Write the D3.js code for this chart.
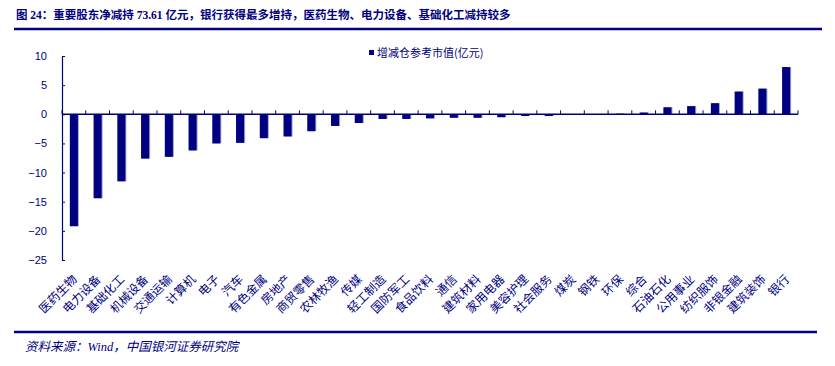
<!DOCTYPE html>
<html>
<head>
<meta charset="utf-8">
<script src="https://cdn.jsdelivr.net/npm/d3@7"></script>
<style>
  body { margin: 0; background: #fff; }
  svg { display: block; }
</style>
</head>
<body>
<div id="chart"></div>
<script>
// Data
const industries = ["医药生物", "电力设备", "基础化工", "机械设备", "交通运输", "计算机", "电子", "汽车",
  "有色金属", "房地产", "商贸零售", "农林牧渔", "传媒", "轻工制造", "国防军工", "食品饮料", "通信",
  "建筑材料", "家用电器", "美容护理", "社会服务", "煤炭", "钢铁", "环保", "综合", "石油石化",
  "公用事业", "纺织服饰", "非银金融", "建筑装饰", "银行"];
const values = [-19.2, -14.4, -11.5, -7.6, -7.3, -6.2, -5.0, -4.9,
  -4.1, -3.8, -2.9, -2.0, -1.5, -0.8, -0.8, -0.7, -0.6,
  -0.6, -0.5, -0.3, -0.3, -0.1, 0.0, 0.1, 0.3, 1.2,
  1.4, 1.9, 3.9, 4.4, 8.1];
const yTicks = [10, 5, 0, -5, -10, -15, -20, -25];

const title = "图 24：重要股东净减持 73.61 亿元，银行获得最多增持，医药生物、电力设备、基础化工减持较多";
const legendLabel = "增减仓参考市值(亿元)";
const source = "资料来源：Wind，中国银河证券研究院";

const W = 835, H = 366;
const margin = {top: 56, right: 37, bottom: 106, left: 62};
const navy = "#000080";

const svg = d3.select("#chart")
  .append("svg")
    .attr("width", W)
    .attr("height", H);

// Title and rules
svg.append("text")
  .attr("x", 16)
  .attr("y", 19)
  .style("font-family", "'Liberation Serif', 'Noto Sans CJK SC'")
  .style("font-size", "11.5px")
  .style("font-weight", "bold")
  .style("fill", navy)
  .text(title);

svg.append("line")
  .attr("x1", 14).attr("x2", 822)
  .attr("y1", 29).attr("y2", 29)
  .attr("stroke", navy)
  .attr("stroke-width", 2.5);

svg.append("line")
  .attr("x1", 14).attr("x2", 817)
  .attr("y1", 332).attr("y2", 332)
  .attr("stroke", navy)
  .attr("stroke-width", 2.5);

svg.append("text")
  .attr("x", 25)
  .attr("y", 351)
  .style("font-family", "'Liberation Serif', 'Noto Sans CJK SC'")
  .style("font-size", "12.5px")
  .style("font-style", "italic")
  .style("fill", navy)
  .text(source);

// Scales
const x = d3.scaleBand()
  .domain(industries)
  .range([margin.left, 798])
  .paddingInner(0.66)
  .paddingOuter(0.33);

const y = d3.scaleLinear()
  .domain([-25, 10])
  .range([260, 56]);

const step = x.step();
const x0 = margin.left;

// Bars (with a light right edge like the original)
const bars = svg.append("g");
bars.selectAll("rect.edge")
  .data(values)
  .enter()
  .append("rect")
    .attr("class", "edge")
    .attr("x", (d, i) => x(industries[i]) + 1)
    .attr("y", d => Math.min(y(d), y(0)))
    .attr("width", x.bandwidth())
    .attr("height", d => Math.abs(y(d) - y(0)))
    .style("fill", "#a0a0d0");
bars.selectAll("rect.bar")
  .data(values)
  .enter()
  .append("rect")
    .attr("class", "bar")
    .attr("x", (d, i) => x(industries[i]))
    .attr("y", d => Math.min(y(d), y(0)))
    .attr("width", x.bandwidth())
    .attr("height", d => Math.abs(y(d) - y(0)))
    .style("fill", navy);

// Y axis
const yAxis = svg.append("g")
  .attr("transform", "translate(" + x0 + ",0)")
  .call(d3.axisLeft(y).tickValues(yTicks).tickSize(-3).tickPadding(15).tickFormat(d3.format("d")));
yAxis.select(".domain").attr("stroke", navy).attr("stroke-width", 1.2);
yAxis.selectAll(".tick line").attr("stroke", navy);
yAxis.selectAll(".tick text")
  .style("font-family", "'Liberation Sans', Arial")
  .style("font-size", "11px")
  .style("fill", navy)
  .text(d => d < 0 ? "\u2212" + Math.abs(d) : d);

// Zero line with category ticks pointing up
const xg = svg.append("g");
xg.append("line")
  .attr("x1", x0).attr("x2", 798)
  .attr("y1", y(0)).attr("y2", y(0))
  .attr("stroke", navy)
  .attr("stroke-width", 1.5);
xg.selectAll("line.tk")
  .data(d3.range(industries.length + 1))
  .enter()
  .append("line")
    .attr("class", "tk")
    .attr("x1", i => x0 + i * step)
    .attr("x2", i => x0 + i * step)
    .attr("y1", y(0))
    .attr("y2", y(0) - 4)
    .attr("stroke", navy)
    .attr("stroke-width", 1);

// Category labels rotated -45
svg.append("g").selectAll("text")
  .data(industries)
  .enter()
  .append("text")
    .attr("transform", d => "translate(" + (x(d) + x.bandwidth() / 2 + 4) + ",280) rotate(-45)")
    .attr("text-anchor", "end")
    .style("font-family", "'Noto Sans CJK SC'")
    .style("font-size", "12px")
    .style("fill", navy)
    .text(d => d);

// Legend
svg.append("rect")
  .attr("x", 369).attr("y", 50)
  .attr("width", 5).attr("height", 5)
  .style("fill", navy);
svg.append("text")
  .attr("x", 377)
  .attr("y", 57)
  .style("font-family", "'Noto Sans CJK SC'")
  .style("font-size", "11px")
  .style("fill", navy)
  .text(legendLabel);
</script>
</body>
</html>
